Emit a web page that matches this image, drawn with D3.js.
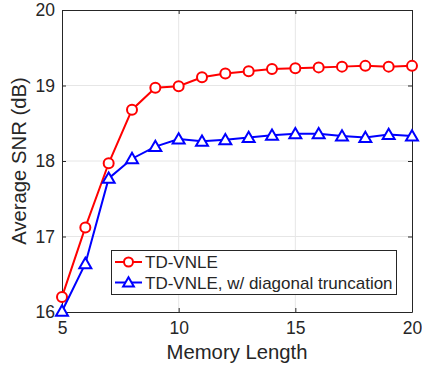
<!DOCTYPE html>
<html>
<head>
    <script src="https://cdn.jsdelivr.net/npm/d3@7"></script>
    <style>
        body { margin: 0; background: #fff; }
        text { font-family: 'Liberation Sans', Arial, sans-serif; fill: #262626; }
    </style>
</head>
<body>
<div id="visDiv"></div>
<script>
    // data
    var memLength = [5, 6, 7, 8, 9, 10, 11, 12, 13, 14, 15, 16, 17, 18, 19, 20];
    var snrFull = [16.20, 17.12, 17.97, 18.68, 18.97, 18.99, 19.11, 19.16, 19.19, 19.22, 19.23, 19.24, 19.25, 19.26, 19.25, 19.26];
    var snrTrunc = [16.01, 16.64, 17.77, 18.03, 18.19, 18.29, 18.26, 18.28, 18.31, 18.34, 18.36, 18.36, 18.33, 18.31, 18.35, 18.33];
    var xTicks = [5, 10, 15, 20];
    var yTicks = [16, 17, 18, 19, 20];
    var legendLabels = ["TD-VNLE", "TD-VNLE, w/ diagonal truncation"];

    var W = 422, H = 370;
    var mLeft = 62, mRight = 412, mTop = 10, mBottom = 312;

    var svg = d3.select("#visDiv").append("svg")
        .attr("width", W).attr("height", H);

    var x = d3.scaleLinear().domain([5, 20]).range([mLeft, mRight]);
    var y = d3.scaleLinear().domain([16, 20]).range([mBottom, mTop]);

    /* grid */
    svg.append("g").selectAll("line").data(xTicks.slice(1, -1)).enter().append("line")
        .attr("x1", d => x(d)).attr("x2", d => x(d))
        .attr("y1", mTop).attr("y2", mBottom)
        .attr("stroke", "#e6e6e6").attr("stroke-width", 1);
    svg.append("g").selectAll("line").data(yTicks.slice(1, -1)).enter().append("line")
        .attr("y1", d => y(d)).attr("y2", d => y(d))
        .attr("x1", mLeft).attr("x2", mRight)
        .attr("stroke", "#e6e6e6").attr("stroke-width", 1);

    /* axes */
    var xAxis = d3.axisBottom(x).tickValues(xTicks).tickFormat(d3.format("d"))
        .tickSizeInner(-4).tickSizeOuter(0).tickPadding(10);
    var yAxis = d3.axisLeft(y).tickValues(yTicks).tickFormat(d3.format("d"))
        .tickSizeInner(-4).tickSizeOuter(0).tickPadding(7);
    var xTop = d3.axisTop(x).tickValues(xTicks).tickSizeInner(-4).tickSizeOuter(0).tickFormat("");
    var yRight = d3.axisRight(y).tickValues(yTicks).tickSizeInner(-4).tickSizeOuter(0).tickFormat("");

    function styleAxis(g) {
        g.select(".domain").attr("stroke", "#262626");
        g.selectAll(".tick line").attr("stroke", "#262626");
        g.selectAll(".tick text").attr("fill", "#262626")
            .style("font-size", "17.5px").style("font-family", "'Liberation Sans', Arial, sans-serif");
    }

    svg.append("g").attr("transform", "translate(0," + mBottom + ")").call(xAxis).call(styleAxis);
    svg.append("g").attr("transform", "translate(" + mLeft + ",0)").call(yAxis).call(styleAxis);
    svg.append("g").attr("transform", "translate(0," + mTop + ")").call(xTop).call(styleAxis);
    svg.append("g").attr("transform", "translate(" + mRight + ",0)").call(yRight).call(styleAxis);

    /* axis labels */
    svg.append("text").attr("x", (mLeft + mRight) / 2).attr("y", 359)
        .attr("text-anchor", "middle").style("font-size", "20.3px").text("Memory Length");
    svg.append("text").attr("transform", "translate(26," + ((mTop + mBottom) / 2) + ") rotate(-90)")
        .attr("text-anchor", "middle").style("font-size", "20.3px").text("Average SNR (dB)");

    /* series */
    var line = d3.line().x(d => x(d[0])).y(d => y(d[1]));
    var full = memLength.map((m, i) => [m, snrFull[i]]);
    var trunc = memLength.map((m, i) => [m, snrTrunc[i]]);
    var tri = d3.symbol().type(d3.symbolTriangle).size(62);

    svg.append("path").datum(full).attr("d", line)
        .attr("fill", "none").attr("stroke", "#ff0000").attr("stroke-width", 2);
    svg.append("g").selectAll("circle").data(full).enter().append("circle")
        .attr("cx", d => x(d[0])).attr("cy", d => y(d[1])).attr("r", 5)
        .attr("fill", "#fff").attr("stroke", "#ff0000").attr("stroke-width", 2);

    svg.append("path").datum(trunc).attr("d", line)
        .attr("fill", "none").attr("stroke", "#0000ff").attr("stroke-width", 2);
    svg.append("g").selectAll("path").data(trunc).enter().append("path")
        .attr("d", tri)
        .attr("transform", d => "translate(" + x(d[0]) + "," + (y(d[1]) + 1) + ")")
        .attr("fill", "#fff").attr("stroke", "#0000ff").attr("stroke-width", 2);

    /* legend */
    var lg = svg.append("g");
    lg.append("rect").attr("x", 111.5).attr("y", 250.5).attr("width", 285).attr("height", 44)
        .attr("fill", "#fff").attr("stroke", "#262626").attr("stroke-width", 1);
    var colors = ["#ff0000", "#0000ff"];
    legendLabels.forEach(function (lab, i) {
        var cy = 262 + i * 20.5;
        lg.append("line").attr("x1", 115).attr("x2", 142).attr("y1", cy).attr("y2", cy)
            .attr("stroke", colors[i]).attr("stroke-width", 2);
        if (i == 0) {
            lg.append("circle").attr("cx", 128.5).attr("cy", cy).attr("r", 4.5)
                .attr("fill", "#fff").attr("stroke", colors[i]).attr("stroke-width", 2);
        } else {
            lg.append("path").attr("d", d3.symbol().type(d3.symbolTriangle).size(50))
                .attr("transform", "translate(128.5," + (cy + 1) + ")")
                .attr("fill", "#fff").attr("stroke", colors[i]).attr("stroke-width", 2);
        }
        lg.append("text").attr("x", 145).attr("y", cy + 6).style("font-size", "17px").text(lab);
    });
</script>
</body>
</html>
